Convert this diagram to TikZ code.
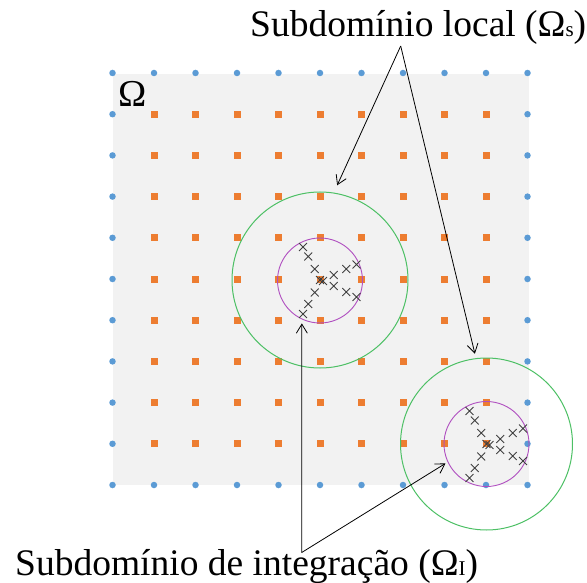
\documentclass[tikz,border=0pt]{standalone}
\usepackage{fontspec}
\setmainfont{Liberation Serif}
\usetikzlibrary{arrows.meta,shapes.misc}

\definecolor{gridblue}{HTML}{5B9BD5}
\definecolor{gridorange}{HTML}{ED7D31}
\definecolor{domgrey}{HTML}{F2F2F2}
\definecolor{localgreen}{HTML}{4DC065}
\definecolor{integpurple}{HTML}{B04FC0}
\newcommand{\smallidx}[1]{{\fontsize{21}{21}\selectfont #1}}

\begin{document}
\begin{tikzpicture}[x=1pt, y=-1pt,
    bnode/.style={circle, fill=gridblue, inner sep=0pt, minimum size=6.5pt},
    inode/.style={rectangle, fill=gridorange, inner sep=0pt, minimum size=7pt},
    quad/.style={cross out, draw=black!75, line width=0.9pt, inner sep=0pt, minimum size=7pt},
    local/.style={circle, draw=localgreen, line width=1pt, inner sep=0pt},
    integ/.style={circle, draw=integpurple, line width=0.9pt, inner sep=0pt, minimum size=85pt},
    lbl/.style={font=\fontsize{37.5}{42}\selectfont, inner sep=0pt, anchor=base west},
    arr/.style={-{Straight Barb[length=9pt, width=11pt]}, line width=0.8pt}
]
\useasboundingbox (0,0) rectangle (587,583);
\fill[domgrey] (112.5,74) rectangle (528.5,485);

\foreach \i in {0,...,10} {
  \foreach \j in {0,...,10} {
    \pgfmathtruncatemacro{\isedge}{or(or(\i==0,\i==10),or(\j==0,\j==10))}
    \ifnum\isedge=1
      \node[bnode] (g-\i-\j) at (112.5+41.5*\i, 73+41.2*\j) {};
    \else
      \node[inode] (g-\i-\j) at (112.5+41.5*\i, 73+41.2*\j) {};
    \fi
  }
}

\node[local, minimum size=176pt] (loc1) at (320,280) {};
\node[integ]                     (int1) at (320,280.5) {};
\node[local, minimum size=172pt] (loc2) at (486.5,444) {};
\node[integ]                     (int2) at (486.5,444) {};

\foreach \dx/\dy [count=\k] in {-17/-33, -11.7/-23.5, -5.3/-11, -5.3/12.5, -11.7/24, -17/34,
    13.7/-5, 26.3/-11, 36.5/-15.5, 13.7/6, 26.3/12, 36.5/17, 0/0, 3/1} {
  \node[quad] (qa-\k) at (320+\dx, 280+\dy) {};
  \node[quad] (qb-\k) at (486.5+\dx, 444+\dy) {};
}

\node[lbl, font=\fontsize{38}{42}\selectfont] (omega) at (118,107) {Ω};
\node[lbl] (loclbl) at (250,37)  {Subdomínio local (Ω\smallidx{s})};
\node[lbl] (intlbl) at (15,575)  {Subdomínio de integração (Ω\smallidx{I})};

\coordinate (locapex) at (400.7,46);
\coordinate (intapex) at (301.7,552.5);

\draw[arr, shorten >=8pt]   (locapex) -- (loc1.81.6);
\draw[arr, shorten >=4.5pt] (locapex) -- (loc2.97.7);
\draw[arr, shorten >=4pt]   (intapex) -- (int1.245);
\draw[arr, shorten >=2.5pt] (intapex) -- (int2.205);
\end{tikzpicture}
\end{document}
